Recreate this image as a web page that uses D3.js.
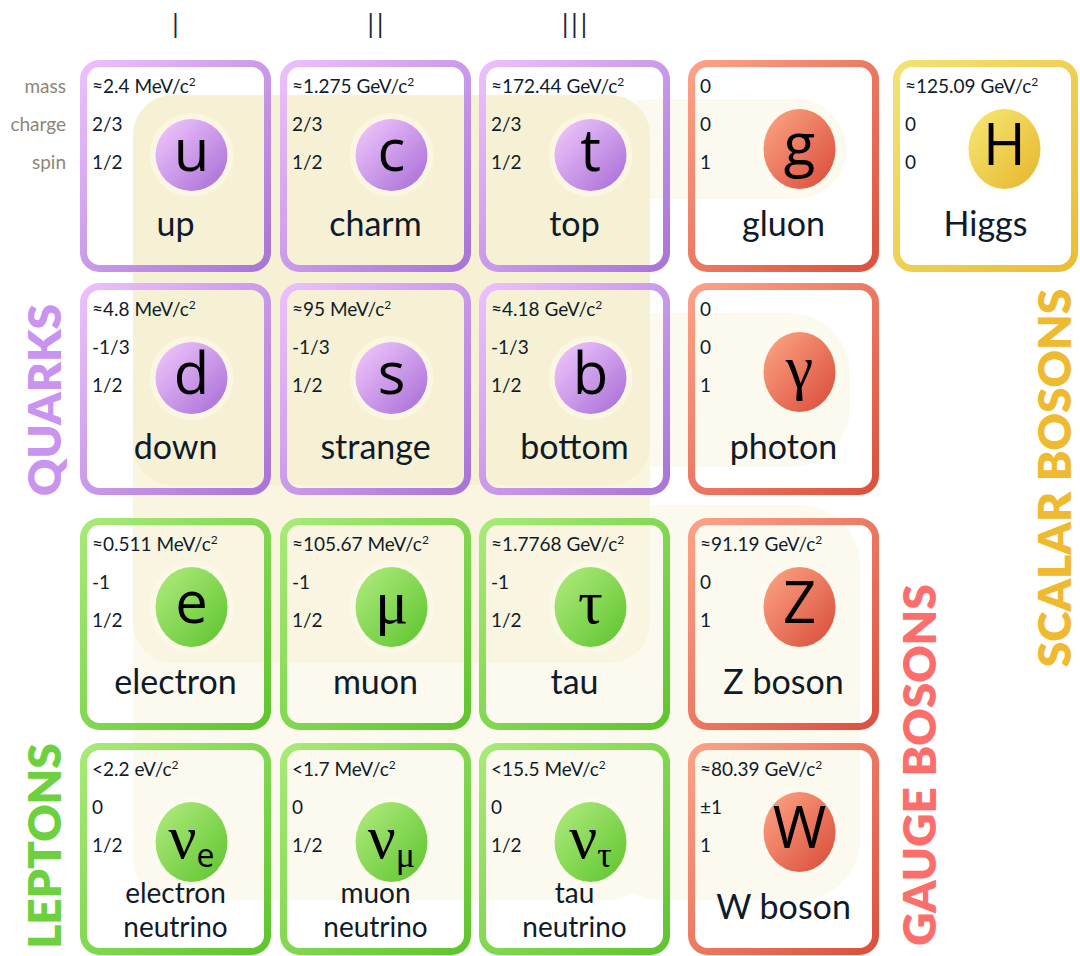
<!DOCTYPE html>
<html><head><meta charset="utf-8">
<script src="https://cdn.jsdelivr.net/npm/d3@7"></script>
<style>body{margin:0;background:#fff;} svg{display:block}</style>
</head><body>
<svg id="chart" width="1080" height="956"></svg>
<script>
// ---------- data ----------
const generations = ["I", "II", "III"];
const columns = ["I", "II", "III", "gauge", "scalar"];
const propertyLabels = ["mass", "charge", "spin"];
const names = ["up","charm","top","gluon","Higgs",
               "down","strange","bottom","photon",
               "electron","muon","tau","Z boson",
               "electron\nneutrino","muon\nneutrino","tau\nneutrino","W boson"];
const symbols = ["u","c","t","g","H","d","s","b","γ","e","μ","τ","Z","ν","ν","ν","W"];
const subscripts = ["","","","","","","","","","","","","","e","μ","τ",""];
const masses = ["≈2.4 MeV/c²","≈1.275 GeV/c²","≈172.44 GeV/c²","0","≈125.09 GeV/c²",
                "≈4.8 MeV/c²","≈95 MeV/c²","≈4.18 GeV/c²","0",
                "≈0.511 MeV/c²","≈105.67 MeV/c²","≈1.7768 GeV/c²","≈91.19 GeV/c²",
                "<2.2 eV/c²","<1.7 MeV/c²","<15.5 MeV/c²","≈80.39 GeV/c²"];
const charges = ["2/3","2/3","2/3","0","0","-1/3","-1/3","-1/3","0","-1","-1","-1","0","0","0","0","±1"];
const spins = ["1/2","1/2","1/2","1","0","1/2","1/2","1/2","1","1/2","1/2","1/2","1","1/2","1/2","1/2","1"];
const particleColumns = ["I","II","III","gauge","scalar","I","II","III","gauge","I","II","III","gauge","I","II","III","gauge"];
const particleRows = [0,0,0,0,0,1,1,1,1,2,2,2,2,3,3,3,3];
const particleGroups = ["quark","quark","quark","gauge","scalar","quark","quark","quark","gauge",
                        "lepton","lepton","lepton","gauge","neutrino","neutrino","neutrino","gauge"];
const groupLabels = ["QUARKS","LEPTONS","GAUGE BOSONS","SCALAR BOSONS"];

// ---------- layout / style ----------
const svg = d3.select("#chart");
const defs = svg.append("defs");
const x = d3.scaleOrdinal().domain(columns).range([80, 280, 479, 688, 893]);
const y = d3.scaleOrdinal().domain([0,1,2,3]).range([60, 283, 518, 743]);
const cardW = c => c === "scalar" ? 185 : 191;
const cardH = 212;
const sans = "Lato, 'Open Sans', sans-serif";
const ink = "#0f1b2a";

const palette = {
  quark:   {stroke:["#ecc0fc","#a874d8"], fill:["#f3cbff","#a66bd5"]},
  lepton:  {stroke:["#a8ea78","#5ec52d"], fill:["#b2ec80","#5cc42c"]},
  neutrino:{stroke:["#a8ea78","#5ec52d"], fill:["#b2ec80","#5cc42c"]},
  gauge:   {stroke:["#fca286","#dc503e"], fill:["#fda786","#d94a38"]},
  scalar:  {stroke:["#f1e373","#ebbd34"], fill:["#f5ea76","#e8b42a"]}
};
const circleGeom = {
  quark:{rx:36, ry:36, dy:95}, lepton:{rx:36, ry:40, dy:89}, neutrino:{rx:36, ry:40, dy:99},
  gauge:{rx:36, ry:40, dy:89}, scalar:{rx:36, ry:40, dy:89}
};
Object.entries(palette).forEach(([k, p]) => {
  ["stroke","fill"].forEach(t => {
    const g = defs.append("linearGradient").attr("id", `${t}-${k}`)
      .attr("x1", 0).attr("y1", 0).attr("x2", 1).attr("y2", 1);
    g.append("stop").attr("offset", "0%").attr("stop-color", p[t][0]);
    g.append("stop").attr("offset", "100%").attr("stop-color", p[t][1]);
  });
});

// ---------- background interaction regions ----------
function roundRect(p, x0, y0, w, h, r) {
  p.moveTo(x0 + r, y0);
  p.arcTo(x0 + w, y0, x0 + w, y0 + h, r);
  p.arcTo(x0 + w, y0 + h, x0, y0 + h, r);
  p.arcTo(x0, y0 + h, x0, y0, r);
  p.arcTo(x0, y0, x0 + w, y0, r);
  p.closePath();
}
const L = x("I") + 53, R = x("III") + 171, T = y(0) + 35;
const regions = [
  [[L, T, R - L, 485 - T, 40], [600, 99, x("gauge") + 158 - 600, 100, 50]],
  [[L, T, R - L, 663 - T, 40], [600, 313, x("gauge") + 162 - 600, 154, 60]],
  [[L, T, R - L, 900 - T, 40], [600, 505, x("gauge") + 172 - 600, 395, 60]]
];
const bg = svg.append("g");
regions.forEach(rs => {
  const p = d3.path();
  rs.forEach(r => roundRect(p, ...r));
  bg.append("path").attr("d", p.toString())
    .attr("fill", "rgb(236,220,140)").attr("fill-opacity", 0.14);
});

// ---------- header ----------
svg.append("g").selectAll("text").data(generations).join("text")
  .attr("x", d => x(d) + cardW(d) / 2).attr("y", 38)
  .attr("text-anchor", "middle")
  .style("font-family", sans).style("font-weight", 300).style("font-size", "36px")
  .attr("fill", "#1b2b3d").text(d => d);

svg.append("g").selectAll("text").data(propertyLabels).join("text")
  .attr("x", 66).attr("y", (d, i) => y(0) + [33, 71, 109][i])
  .attr("text-anchor", "end")
  .style("font-family", sans).style("font-size", "19px")
  .attr("fill", "#8e857a").text(d => d);

// ---------- cards ----------
const particles = names.map((n, i) => ({
  name: n, sym: symbols[i], sub: subscripts[i], mass: masses[i], charge: charges[i],
  spin: spins[i], col: particleColumns[i], row: particleRows[i], group: particleGroups[i]
}));

const cards = svg.append("g").selectAll("g").data(particles).join("g")
  .attr("transform", d => `translate(${x(d.col)},${y(d.row)})`);

cards.append("rect")
  .attr("x", 3.5).attr("y", 3.5)
  .attr("width", d => cardW(d.col) - 7).attr("height", cardH - 7)
  .attr("rx", 16).attr("fill", "none")
  .attr("stroke", d => `url(#stroke-${d.group})`).attr("stroke-width", 7);

// properties
cards.each(function(d) {
  const g = d3.select(this);
  const vals = [d.mass, d.charge, d.spin];
  vals.forEach((v, i) => {
    const t = g.append("text").attr("x", 12).attr("y", [33, 71, 109][i])
      .style("font-family", sans).style("font-size", "19px").attr("fill", ink);
    if (v.endsWith("²")) {
      t.append("tspan").text(v.slice(0, -1));
      t.append("tspan").attr("dy", -7).style("font-size", "12px").text("2");
    } else t.text(v);
  });
});

// circles
cards.append("ellipse")
  .attr("cx", 111.5).attr("cy", d => circleGeom[d.group].dy)
  .attr("rx", d => circleGeom[d.group].rx + 6).attr("ry", d => circleGeom[d.group].ry + 6)
  .attr("fill", "#fffdf0").attr("fill-opacity", 0.45);
cards.append("ellipse")
  .attr("cx", 111.5).attr("cy", d => circleGeom[d.group].dy)
  .attr("rx", d => circleGeom[d.group].rx).attr("ry", d => circleGeom[d.group].ry)
  .attr("fill", d => `url(#fill-${d.group})`);

// symbols
cards.each(function(d) {
  const g = d3.select(this);
  const greek = /[α-ω]/.test(d.sym);
  const t = g.append("text").attr("x", 111.5).attr("y", circleGeom[d.group].dy + 16)
    .attr("text-anchor", "middle").attr("fill", "#000")
    .style("font-family", greek ? "'Liberation Serif', serif" : "'Open Sans', sans-serif")
    .style("font-size", greek ? "62px" : "58px");
  t.append("tspan").text(d.sym);
  if (d.sub) t.append("tspan").attr("dy", 9)
    .style("font-family", d.sub === "e" ? "'Open Sans', sans-serif" : "'Liberation Serif', serif")
    .style("font-size", d.sub === "e" ? "32px" : "36px").text(d.sub);
});

// names
cards.each(function(d) {
  const g = d3.select(this);
  const lines = d.name.split("\n");
  const w = cardW(d.col);
  if (lines.length === 1) {
    g.append("text").attr("x", w / 2).attr("y", 176)
      .attr("text-anchor", "middle").style("font-family", sans).style("font-size", "34px")
      .attr("fill", ink).text(lines[0]);
  } else {
    const t = g.append("text").attr("text-anchor", "middle")
      .style("font-family", sans).style("font-size", "28px").attr("fill", ink);
    lines.forEach((l, i) => t.append("tspan").attr("x", w / 2).attr("y", 160 + i * 34).text(l));
  }
});

// ---------- group labels ----------
const labelPos = [[61, 400, "#c894ef"], [61, 846, "#6dd03e"], [936, 765, "#fc6e6c"], [1071, 478, "#efb930"]];
svg.append("g").selectAll("text").data(groupLabels).join("text")
  .attr("transform", (d, i) => `translate(${labelPos[i][0]},${labelPos[i][1]}) rotate(-90)`)
  .attr("text-anchor", "middle")
  .style("font-family", sans).style("font-weight", 800).style("font-size", "46px")
  .attr("fill", (d, i) => labelPos[i][2]).text(d => d);
</script>
</body></html>
